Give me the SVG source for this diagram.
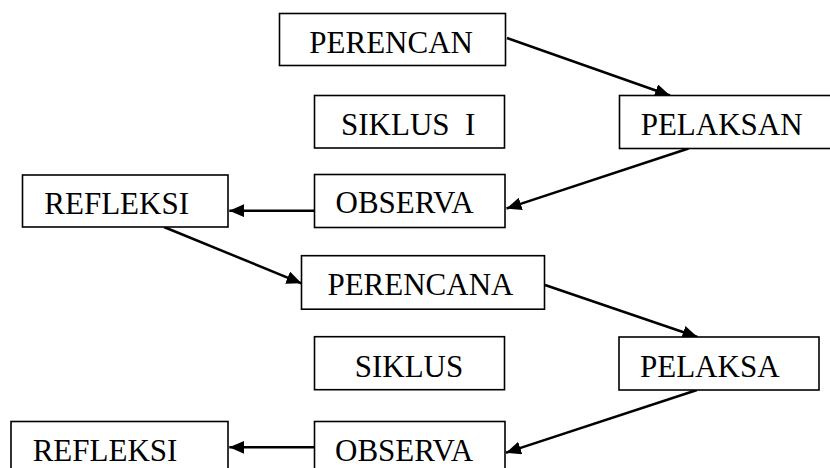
<svg xmlns="http://www.w3.org/2000/svg" width="830" height="468" viewBox="0 0 830 468">
<defs>
<style>
.box rect{fill:#fff;stroke:#000;stroke-width:1.6}
.box text{font-family:"Liberation Serif","Times New Roman",serif;font-size:31px;fill:#000}
.conn line{stroke:#000;stroke-width:2.5;fill:none}
</style>
<marker id="ah" markerUnits="userSpaceOnUse" markerWidth="16" markerHeight="14" refX="15" refY="6.5" orient="auto">
<path d="M0,0 L15,6.5 L0,13 z" fill="#000"/>
</marker>
</defs>
<rect width="830" height="468" fill="#fff"/>
<g class="conn">
<line x1="507" y1="38" x2="670" y2="95.5" marker-end="url(#ah)"/>
<line x1="688.5" y1="148.5" x2="506.5" y2="208.5" marker-end="url(#ah)"/>
<line x1="314.5" y1="210.7" x2="229.3" y2="210.7" marker-end="url(#ah)"/>
<line x1="164" y1="227" x2="301.5" y2="283.3" marker-end="url(#ah)"/>
<line x1="545" y1="285" x2="697.5" y2="337" marker-end="url(#ah)"/>
<line x1="697" y1="390" x2="506" y2="452.7" marker-end="url(#ah)"/>
<line x1="314.5" y1="447.3" x2="229.3" y2="447.3" marker-end="url(#ah)"/>
</g>
<g id="n1" class="box"><rect x="279.5" y="13.5" width="226" height="52"/><text x="309.3" y="52.7">PERENCAN</text></g>
<g id="n2" class="box"><rect x="314.5" y="95.5" width="190" height="52.5"/><text x="341" y="135" xml:space="preserve">SIKLUS  I</text></g>
<g id="n3" class="box"><rect x="619.5" y="95.5" width="215" height="53"/><text x="640.7" y="135">PELAKSAN</text></g>
<g id="n4" class="box"><rect x="22.5" y="175" width="205.5" height="52"/><text x="44.3" y="214.3">REFLEKSI</text></g>
<g id="n5" class="box"><rect x="314.5" y="174.5" width="190.5" height="53"/><text x="335.5" y="213.3">OBSERVA</text></g>
<g id="n6" class="box"><rect x="301.5" y="255.7" width="243" height="53.5"/><text x="327.4" y="295">PERENCANA</text></g>
<g id="n7" class="box"><rect x="314.5" y="336.7" width="190" height="53"/><text x="354.7" y="376.7">SIKLUS</text></g>
<g id="n8" class="box"><rect x="619" y="337" width="200" height="53"/><text x="640" y="376.7">PELAKSA</text></g>
<g id="n9" class="box"><rect x="11" y="421.5" width="217" height="53"/><text x="32.7" y="461">REFLEKSI</text></g>
<g id="n10" class="box"><rect x="314.5" y="421.5" width="190.5" height="53"/><text x="335" y="461">OBSERVA</text></g>
</svg>
